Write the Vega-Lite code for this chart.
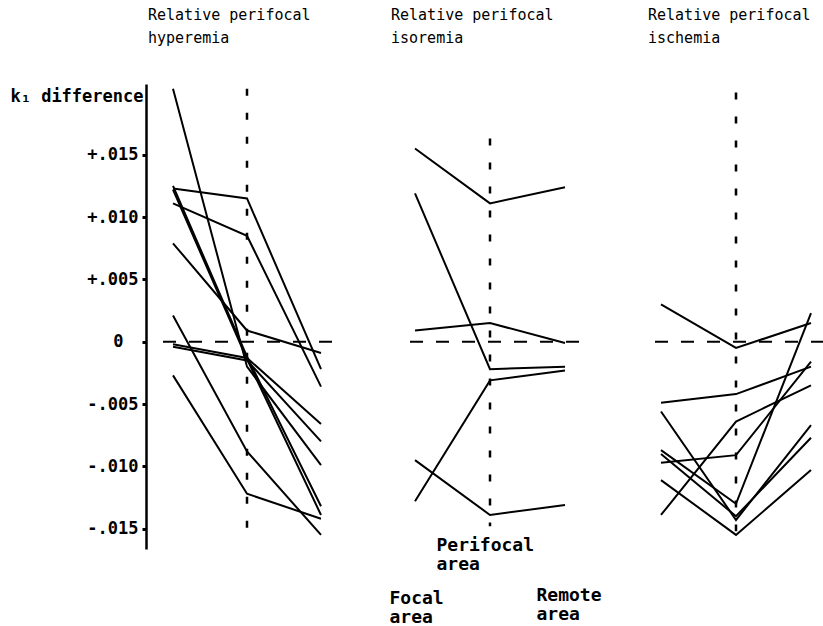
{
  "$schema": "https://vega.github.io/schema/vega-lite/v6.json",
  "background": "white",
  "padding": {"left": 9, "top": 8, "right": 0, "bottom": 0},
  "bounds": "flush",
  "spacing": 69,
  "config": {
    "view": {"stroke": null},
    "title": {"font": "DejaVu Sans Mono", "fontSize": 15, "fontWeight": "normal", "color": "black", "lineHeight": 23, "anchor": "start", "frame": "group", "offset": 38}
  },
  "data": {"values": [
    {"group": "hyperemia", "subject": "H1", "area": "Focal", "k1": 0.0203},
    {"group": "hyperemia", "subject": "H1", "area": "Perifocal", "k1": -0.0020},
    {"group": "hyperemia", "subject": "H1", "area": "Remote", "k1": -0.0099},
    {"group": "hyperemia", "subject": "H2", "area": "Focal", "k1": 0.0123},
    {"group": "hyperemia", "subject": "H2", "area": "Perifocal", "k1": 0.0115},
    {"group": "hyperemia", "subject": "H2", "area": "Remote", "k1": -0.0022},
    {"group": "hyperemia", "subject": "H3", "area": "Focal", "k1": 0.0111},
    {"group": "hyperemia", "subject": "H3", "area": "Perifocal", "k1": 0.0085},
    {"group": "hyperemia", "subject": "H3", "area": "Remote", "k1": -0.0036},
    {"group": "hyperemia", "subject": "H4", "area": "Focal", "k1": 0.0079},
    {"group": "hyperemia", "subject": "H4", "area": "Perifocal", "k1": 0.0009},
    {"group": "hyperemia", "subject": "H4", "area": "Remote", "k1": -0.0009},
    {"group": "hyperemia", "subject": "H5", "area": "Focal", "k1": 0.0021},
    {"group": "hyperemia", "subject": "H5", "area": "Perifocal", "k1": -0.0088},
    {"group": "hyperemia", "subject": "H5", "area": "Remote", "k1": -0.0155},
    {"group": "hyperemia", "subject": "H6", "area": "Focal", "k1": -0.0027},
    {"group": "hyperemia", "subject": "H6", "area": "Perifocal", "k1": -0.0122},
    {"group": "hyperemia", "subject": "H6", "area": "Remote", "k1": -0.0142},
    {"group": "hyperemia", "subject": "H7", "area": "Focal", "k1": 0.0125},
    {"group": "hyperemia", "subject": "H7", "area": "Perifocal", "k1": -0.0012},
    {"group": "hyperemia", "subject": "H7", "area": "Remote", "k1": -0.0132},
    {"group": "hyperemia", "subject": "H8", "area": "Focal", "k1": 0.0122},
    {"group": "hyperemia", "subject": "H8", "area": "Perifocal", "k1": -0.0014},
    {"group": "hyperemia", "subject": "H8", "area": "Remote", "k1": -0.0139},
    {"group": "hyperemia", "subject": "H9", "area": "Focal", "k1": -0.0002},
    {"group": "hyperemia", "subject": "H9", "area": "Perifocal", "k1": -0.0013},
    {"group": "hyperemia", "subject": "H9", "area": "Remote", "k1": -0.0066},
    {"group": "hyperemia", "subject": "H10", "area": "Focal", "k1": -0.0004},
    {"group": "hyperemia", "subject": "H10", "area": "Perifocal", "k1": -0.0015},
    {"group": "hyperemia", "subject": "H10", "area": "Remote", "k1": -0.0080},
    {"group": "isoremia", "subject": "I1", "area": "Focal", "k1": 0.0155},
    {"group": "isoremia", "subject": "I1", "area": "Perifocal", "k1": 0.0111},
    {"group": "isoremia", "subject": "I1", "area": "Remote", "k1": 0.0124},
    {"group": "isoremia", "subject": "I2", "area": "Focal", "k1": 0.0119},
    {"group": "isoremia", "subject": "I2", "area": "Perifocal", "k1": -0.0022},
    {"group": "isoremia", "subject": "I2", "area": "Remote", "k1": -0.0020},
    {"group": "isoremia", "subject": "I3", "area": "Focal", "k1": 0.0009},
    {"group": "isoremia", "subject": "I3", "area": "Perifocal", "k1": 0.0015},
    {"group": "isoremia", "subject": "I3", "area": "Remote", "k1": -0.0001},
    {"group": "isoremia", "subject": "I4", "area": "Focal", "k1": -0.0128},
    {"group": "isoremia", "subject": "I4", "area": "Perifocal", "k1": -0.0031},
    {"group": "isoremia", "subject": "I4", "area": "Remote", "k1": -0.0023},
    {"group": "isoremia", "subject": "I5", "area": "Focal", "k1": -0.0095},
    {"group": "isoremia", "subject": "I5", "area": "Perifocal", "k1": -0.0139},
    {"group": "isoremia", "subject": "I5", "area": "Remote", "k1": -0.0131},
    {"group": "ischemia", "subject": "S1", "area": "Focal", "k1": 0.0030},
    {"group": "ischemia", "subject": "S1", "area": "Perifocal", "k1": -0.0005},
    {"group": "ischemia", "subject": "S1", "area": "Remote", "k1": 0.0015},
    {"group": "ischemia", "subject": "S2", "area": "Focal", "k1": -0.0049},
    {"group": "ischemia", "subject": "S2", "area": "Perifocal", "k1": -0.0042},
    {"group": "ischemia", "subject": "S2", "area": "Remote", "k1": -0.0020},
    {"group": "ischemia", "subject": "S3", "area": "Focal", "k1": -0.0097},
    {"group": "ischemia", "subject": "S3", "area": "Perifocal", "k1": -0.0091},
    {"group": "ischemia", "subject": "S3", "area": "Remote", "k1": -0.0016},
    {"group": "ischemia", "subject": "S4", "area": "Focal", "k1": -0.0139},
    {"group": "ischemia", "subject": "S4", "area": "Perifocal", "k1": -0.0064},
    {"group": "ischemia", "subject": "S4", "area": "Remote", "k1": -0.0035},
    {"group": "ischemia", "subject": "S5", "area": "Focal", "k1": -0.0087},
    {"group": "ischemia", "subject": "S5", "area": "Perifocal", "k1": -0.0130},
    {"group": "ischemia", "subject": "S5", "area": "Remote", "k1": 0.0023},
    {"group": "ischemia", "subject": "S6", "area": "Focal", "k1": -0.0056},
    {"group": "ischemia", "subject": "S6", "area": "Perifocal", "k1": -0.0143},
    {"group": "ischemia", "subject": "S6", "area": "Remote", "k1": -0.0067},
    {"group": "ischemia", "subject": "S7", "area": "Focal", "k1": -0.0090},
    {"group": "ischemia", "subject": "S7", "area": "Perifocal", "k1": -0.0140},
    {"group": "ischemia", "subject": "S7", "area": "Remote", "k1": -0.0077},
    {"group": "ischemia", "subject": "S8", "area": "Focal", "k1": -0.0111},
    {"group": "ischemia", "subject": "S8", "area": "Perifocal", "k1": -0.0155},
    {"group": "ischemia", "subject": "S8", "area": "Remote", "k1": -0.0103}
  ]},
  "resolve": {"scale": {"x": "independent", "y": "independent"}},
  "hconcat": [
    {
      "width": 170, "height": 465,
      "title": {"text": ["Relative perifocal", "hyperemia"], "dx": -14},
      "resolve": {"axis": {"x": "independent", "y": "independent"}},
      "layer": [
        {"data": {"values": [{}]}, "mark": {"type": "rule", "color": "black", "strokeWidth": 2, "strokeDash": [13, 13]},
         "encoding": {"y": {"datum": 0, "type": "quantitative", "axis": null}}},
        {"data": {"values": [{}]}, "mark": {"type": "rule", "color": "black", "strokeWidth": 2.5, "strokeDash": [7, 17]},
         "encoding": {"x": {"datum": "Perifocal", "type": "ordinal", "axis": null}, "y": {"datum": 0.0203, "type": "quantitative", "axis": null}, "y2": {"datum": -0.016}}},
        {"transform": [{"filter": "datum.group === 'hyperemia'"}],
         "mark": {"type": "line", "color": "black", "strokeWidth": 2},
         "encoding": {
           "x": {"field": "area", "type": "ordinal", "scale": {"type": "point", "domain": ["Focal", "Perifocal", "Remote"], "padding": 0.1486}, "axis": null},
           "y": {"field": "k1", "type": "quantitative", "scale": {"domain": [-0.01663, 0.02068], "nice": false, "zero": false},
             "axis": {
               "values": [-0.015, -0.01, -0.005, 0, 0.005, 0.01, 0.015],
               "labelExpr": "datum.value == 0 ? '0' : (datum.value > 0 ? '+' : '-') + replace(format(abs(datum.value), '.3f'), '0.', '.')",
               "offset": 16, "grid": false,
               "domainColor": "black", "domainWidth": 2.5,
               "tickColor": "black", "tickSize": 4, "tickWidth": 3,
               "labelFont": "DejaVu Sans Mono", "labelFontWeight": "bold", "labelFontSize": 17, "labelColor": "black",
               "labelPadding": {"condition": {"test": "datum.value === 0", "value": 19}, "value": 4},
               "title": "k₁ difference", "titleAngle": 0, "titleAlign": "right", "titleBaseline": "middle", "titleX": -3, "titleY": 12,
               "titleFont": "DejaVu Sans Mono", "titleFontSize": 17, "titleFontWeight": "bold", "titleColor": "black"
             }},
           "detail": {"field": "subject"}
         }}
      ]
    },
    {
      "width": 178, "height": 465,
      "title": {"text": ["Relative perifocal", "isoremia"], "dx": -10},
      "resolve": {"axis": {"x": "independent", "y": "independent"}},
      "layer": [
        {"data": {"values": [{}]}, "mark": {"type": "rule", "color": "black", "strokeWidth": 2, "strokeDash": [13, 13]},
         "encoding": {"y": {"datum": 0, "type": "quantitative", "axis": null}}},
        {"data": {"values": [{}]}, "mark": {"type": "rule", "color": "black", "strokeWidth": 2.5, "strokeDash": [7, 17]},
         "encoding": {"x": {"datum": "Perifocal", "type": "ordinal", "axis": null}, "y": {"datum": 0.0163, "type": "quantitative", "axis": null}, "y2": {"datum": -0.0148}}},
        {"transform": [{"filter": "datum.group === 'isoremia'"}],
         "mark": {"type": "line", "color": "black", "strokeWidth": 2},
         "encoding": {
           "x": {"field": "area", "type": "ordinal", "scale": {"type": "point", "domain": ["Focal", "Perifocal", "Remote"], "padding": 0.1867},
             "axis": {
               "orient": "bottom", "domain": false, "ticks": false, "grid": false, "title": null,
               "labelExpr": "[datum.label, 'area']",
               "labelAngle": 0, "labelAlign": "left", "labelBaseline": "top",
               "labelOffset": {"condition": [{"test": "datum.value === 'Focal'", "value": -26}, {"test": "datum.value === 'Perifocal'", "value": -54}], "value": -29},
               "labelPadding": {"condition": [{"test": "datum.value === 'Focal'", "value": 40}, {"test": "datum.value === 'Perifocal'", "value": -13}], "value": 37},
               "labelFont": "DejaVu Sans Mono", "labelFontWeight": "bold", "labelFontSize": 18, "labelLineHeight": 19, "labelColor": "black",
               "labelOverlap": false, "labelBound": false, "labelFlush": false
             }},
           "y": {"field": "k1", "type": "quantitative", "scale": {"domain": [-0.01663, 0.02068], "nice": false, "zero": false}, "axis": null},
           "detail": {"field": "subject"}
         }}
      ]
    },
    {
      "width": 176, "height": 465,
      "title": {"text": ["Relative perifocal", "ischemia"], "dx": 0},
      "resolve": {"axis": {"x": "independent", "y": "independent"}},
      "layer": [
        {"data": {"values": [{}]}, "mark": {"type": "rule", "color": "black", "strokeWidth": 2, "strokeDash": [13, 13]},
         "encoding": {"y": {"datum": 0, "type": "quantitative", "axis": null}}},
        {"data": {"values": [{}]}, "mark": {"type": "rule", "color": "black", "strokeWidth": 2.5, "strokeDash": [7, 17]},
         "encoding": {"x": {"datum": "Perifocal", "type": "ordinal", "axis": null}, "y": {"datum": 0.0200, "type": "quantitative", "axis": null}, "y2": {"datum": -0.0152}}},
        {"transform": [{"filter": "datum.group === 'ischemia'"}],
         "mark": {"type": "line", "color": "black", "strokeWidth": 2},
         "encoding": {
           "x": {"field": "area", "type": "ordinal", "scale": {"type": "point", "domain": ["Focal", "Perifocal", "Remote"], "padding": 0.1733}, "axis": null},
           "y": {"field": "k1", "type": "quantitative", "scale": {"domain": [-0.01663, 0.02068], "nice": false, "zero": false}, "axis": null},
           "detail": {"field": "subject"}
         }}
      ]
    }
  ]
}
